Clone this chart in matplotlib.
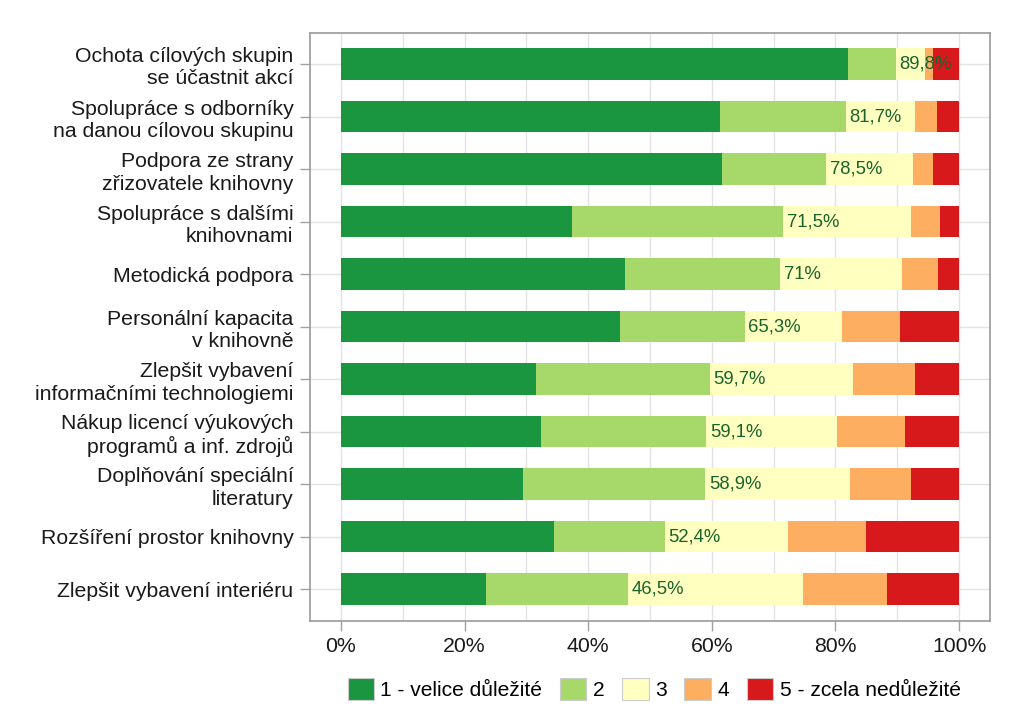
import matplotlib
matplotlib.use("Agg")
import matplotlib.pyplot as plt
from matplotlib.patches import Patch
import numpy as np

plt.rcParams['font.family'] = ['Liberation Sans', 'DejaVu Sans']

categories = [
    "Ochota cílových skupin\nse účastnit akcí",
    "Spolupráce s odborníky\nna danou cílovou skupinu",
    "Podpora ze strany\nzřizovatele knihovny",
    "Spolupráce s dalšími\nknihovnami",
    "Metodická podpora",
    "Personální kapacita\nv knihovně",
    "Zlepšit vybavení\ninformačními technologiemi",
    "Nákup licencí výukových\nprogramů a inf. zdrojů",
    "Doplňování speciální\nliteratury",
    "Rozšíření prostor knihovny",
    "Zlepšit vybavení interiéru",
]
s1 = [82.0, 61.4, 61.7, 37.4, 46.0, 45.2, 31.5, 32.3, 29.4, 34.5, 23.4]
s2 = [7.8, 20.3, 16.8, 34.1, 25.0, 20.1, 28.2, 26.8, 29.5, 17.9, 23.1]
s3 = [4.7, 11.2, 14.0, 20.8, 19.7, 15.7, 23.2, 21.1, 23.5, 19.9, 28.3]
s4 = [1.3, 3.5, 3.3, 4.6, 5.9, 9.4, 10.0, 11.0, 9.9, 12.6, 13.5]
s5 = [4.2, 3.6, 4.2, 3.1, 3.4, 9.6, 7.1, 8.8, 7.7, 15.1, 11.7]
top2_labels = ["89,8%", "81,7%", "78,5%", "71,5%", "71%", "65,3%",
               "59,7%", "59,1%", "58,9%", "52,4%", "46,5%"]
top2_values = [89.8, 81.7, 78.5, 71.5, 71.0, 65.3, 59.7, 59.1, 58.9, 52.4, 46.5]
series_names = ["1 - velice důležité", "2", "3", "4", "5 - zcela nedůležité"]
colors = ["#1a9641", "#a6d96a", "#ffffbf", "#fdae61", "#d7191c"]
xticks = [0, 20, 40, 60, 80, 100]
xticklabels = ["0%", "20%", "40%", "60%", "80%", "100%"]

fig = plt.figure(figsize=(10.24, 7.25), dpi=100)
ax = fig.add_axes([310/1024, 1-620.7/725, 680/1024, (620.7-32.7)/725])

y = np.arange(len(categories))
left = np.zeros(len(categories))
for vals, col, name in zip([s1, s2, s3, s4, s5], colors, series_names):
    ax.barh(y, vals, left=left, height=0.6, color=col, label=name, zorder=2)
    left += np.array(vals)

for yi, v, lab in zip(y, top2_values, top2_labels):
    ax.text(v + 0.6, yi, lab, ha='left', va='center', fontsize=13.3,
            color='#18632d', zorder=3)

ax.set_xlim(-5, 105)
ax.set_ylim(len(categories) - 0.4, -0.6)
ax.set_yticks(y)
ax.set_yticklabels(categories, fontsize=15.3, color='#1a1a1a', linespacing=1.22)
ax.set_xticks(xticks)
ax.set_xticklabels(xticklabels, fontsize=15.3, color='#1a1a1a')
ax.set_xticks([10, 30, 50, 70, 90], minor=True)
ax.tick_params(axis='x', which='minor', length=0)
ax.tick_params(axis='both', which='major', color='#a0a0a0', length=7, width=1, pad=5)
ax.grid(True, which='both', color='#e3e3e3', linewidth=1, zorder=0)
ax.set_axisbelow(True)
for sp in ax.spines.values():
    sp.set_color('#9a9a9a')
    sp.set_linewidth(1.2)

handles = [Patch(facecolor=c, edgecolor='#cccccc', linewidth=0.8) for c in colors]
fig.legend(handles, series_names, loc='center', bbox_to_anchor=(654/1024, 1-689/725),
           ncol=5, frameon=False, fontsize=15.1, handlelength=1.26, handleheight=1.26,
           handletextpad=0.3, columnspacing=0.85)

fig.savefig("out.png", dpi=100)
